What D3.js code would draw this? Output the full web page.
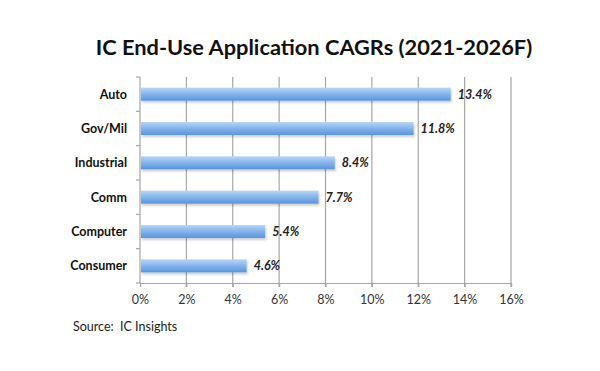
<!DOCTYPE html>
<html lang="en">
<head>
	<meta charset="utf-8">
	<title>IC End-Use Application CAGRs</title>
	<script src="https://d3js.org/d3.v7.min.js"></script>
	<style>
	body { margin: 0; background: #fff; }
	text { font-family: Lato, "Open Sans", sans-serif; }
	</style>
</head>
<body>
	<script>
	// chart data
	var categories = ["Auto", "Gov/Mil", "Industrial", "Comm", "Computer", "Consumer"];
	var cagrValues = [13.4, 11.8, 8.4, 7.7, 5.4, 4.6];
	var tickValues = [0, 2, 4, 6, 8, 10, 12, 14, 16];

	var w = 600;
	var h = 371;
	var margin = { top: 77, left: 140, right: 89, bottom: 88 };

	var svg = d3.select("body")
		.append("svg")
		.attr("width", w)
		.attr("height", h);

	// gradient for the bars
	var defs = svg.append("defs");
	var grad = defs.append("linearGradient")
		.attr("id", "barFill")
		.attr("x1", 0).attr("y1", 0)
		.attr("x2", 0).attr("y2", 1);
	grad.append("stop").attr("offset", "0%").attr("stop-color", "#b9d6f6");
	grad.append("stop").attr("offset", "45%").attr("stop-color", "#86b7ed");
	grad.append("stop").attr("offset", "100%").attr("stop-color", "#5a94dd");

	var filter = defs.append("filter").attr("id", "shadow")
		.attr("x", "-5%").attr("y", "-30%").attr("width", "110%").attr("height", "180%");
	filter.append("feDropShadow")
		.attr("dx", 1).attr("dy", 2).attr("stdDeviation", 1.2)
		.attr("flood-color", "#000").attr("flood-opacity", 0.2);

	var xScale = d3.scaleLinear()
		.domain([0, 16])
		.range([margin.left, w - margin.right]);

	var yScale = d3.scaleBand()
		.domain(categories)
		.range([margin.top, h - margin.bottom])
		.paddingInner(0.62)
		.paddingOuter(0.31);

	var plotBottom = h - margin.bottom;

	// vertical gridlines
	svg.selectAll("line.grid")
		.data(tickValues.slice(1))
		.enter()
		.append("line")
		.attr("class", "grid")
		.attr("x1", function(d) { return xScale(d); })
		.attr("x2", function(d) { return xScale(d); })
		.attr("y1", margin.top)
		.attr("y2", plotBottom + 4)
		.attr("stroke", "#a6a6a6")
		.attr("stroke-width", 1.2);

	// x axis
	var xAxis = svg.append("g")
		.attr("transform", "translate(0," + plotBottom + ")")
		.call(d3.axisBottom(xScale)
			.tickValues(tickValues)
			.tickSize(4)
			.tickPadding(8)
			.tickFormat(function(d) { return d + "%"; }));
	xAxis.select(".domain").attr("stroke", "#a6a6a6").attr("stroke-width", 1.2);
	xAxis.selectAll(".tick line").attr("stroke", "#a6a6a6").attr("stroke-width", 1.2);
	xAxis.selectAll("text")
		.attr("font-family", "Lato, 'Open Sans', sans-serif")
		.attr("font-size", 12.5)
		.attr("fill", "#333");

	// y axis line with ticks at band edges
	var bandEdges = categories.map(function(c) { return yScale(c) - yScale.step() * yScale.paddingInner() / 2; });
	bandEdges.push(plotBottom);
	svg.append("line")
		.attr("x1", margin.left).attr("x2", margin.left)
		.attr("y1", margin.top).attr("y2", plotBottom)
		.attr("stroke", "#a6a6a6")
		.attr("stroke-width", 1.2);
	svg.selectAll("line.ytick")
		.data(bandEdges)
		.enter()
		.append("line")
		.attr("class", "ytick")
		.attr("x1", margin.left - 4).attr("x2", margin.left)
		.attr("y1", function(d) { return d; })
		.attr("y2", function(d) { return d; })
		.attr("stroke", "#a6a6a6")
		.attr("stroke-width", 1.2);

	// category labels
	svg.selectAll("text.cat")
		.data(categories)
		.enter()
		.append("text")
		.attr("class", "cat")
		.attr("x", margin.left - 13)
		.attr("y", function(d) { return yScale(d) + yScale.bandwidth() / 2; })
		.attr("dy", "0.35em")
		.attr("text-anchor", "end")
		.attr("font-size", 12.5)
		.attr("font-weight", "bold")
		.attr("fill", "#111")
		.text(function(d) { return d; });

	// bars
	svg.selectAll("rect.bar")
		.data(cagrValues)
		.enter()
		.append("rect")
		.attr("class", "bar")
		.attr("x", xScale(0) + 1)
		.attr("y", function(d, i) { return yScale(categories[i]); })
		.attr("width", function(d) { return xScale(d) - xScale(0) - 1; })
		.attr("height", yScale.bandwidth())
		.attr("fill", "url(#barFill)")
		.attr("filter", "url(#shadow)");

	// value labels
	svg.selectAll("text.val")
		.data(cagrValues)
		.enter()
		.append("text")
		.attr("class", "val")
		.attr("x", function(d) { return xScale(d) + 7; })
		.attr("y", function(d, i) { return yScale(categories[i]) + yScale.bandwidth() / 2; })
		.attr("dy", "0.35em")
		.attr("font-size", 12.5)
		.attr("font-weight", "bold")
		.attr("font-style", "italic")
		.attr("fill", "#222")
		.text(function(d) { return d.toFixed(1) + "%"; });

	// title
	svg.append("text")
		.attr("x", 314)
		.attr("y", 55)
		.attr("text-anchor", "middle")
		.attr("font-size", 21.8)
		.attr("font-weight", "bold")
		.attr("fill", "#111")
		.text("IC End-Use Application CAGRs (2021-2026F)");

	// source note
	svg.append("text")
		.attr("x", 73)
		.attr("y", 331)
		.attr("font-size", 12.5)
		.attr("fill", "#222")
		.attr("xml:space", "preserve")
		.style("white-space", "pre")
		.text("Source:  IC Insights");
	</script>
</body>
</html>
